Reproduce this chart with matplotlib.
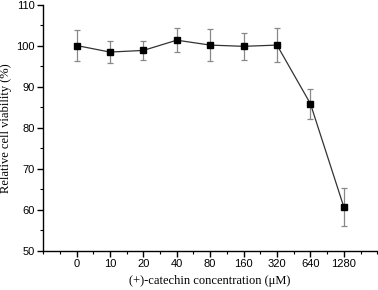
import numpy as np
import matplotlib
matplotlib.use('Agg')
import matplotlib.pyplot as plt
from matplotlib.ticker import MultipleLocator

conc = ['0', '10', '20', '40', '80', '160', '320', '640', '1280']
viability = [100.1, 98.5, 98.9, 101.4, 100.2, 99.9, 100.2, 85.9, 60.7]
err = [3.8, 2.7, 2.3, 3.0, 3.9, 3.3, 4.1, 3.7, 4.6]

x = np.arange(len(conc))

fig = plt.figure(figsize=(3.78, 2.90), dpi=100)
ax = fig.add_axes([0.114, 0.135, 0.884, 0.848])

ax.errorbar(x, viability, yerr=err, fmt='none', ecolor='#888888',
            elinewidth=0.9, capsize=2.5, capthick=0.9, zorder=2)
ax.plot(x, viability, '-', color='#333333', lw=0.9, zorder=3)
ax.plot(x, viability, 's', color='black', markersize=5, zorder=4)

ax.set_xlim(-1, 9)
ax.set_ylim(50, 110)
ax.set_xticks(x)
ax.set_xticklabels(conc)
ax.xaxis.set_minor_locator(MultipleLocator(0.5))
ax.yaxis.set_major_locator(MultipleLocator(10))
ax.yaxis.set_minor_locator(MultipleLocator(5))

ax.spines['top'].set_visible(False)
ax.spines['right'].set_visible(False)
ax.spines['left'].set_linewidth(1.0)
ax.spines['bottom'].set_linewidth(1.0)
ax.tick_params(which='major', direction='out', length=4, width=1.0,
               labelsize=8, pad=2)
ax.tick_params(which='minor', direction='out', length=2, width=0.8)
for lbl in ax.get_xticklabels() + ax.get_yticklabels():
    lbl.set_fontfamily('Liberation Sans')

ax.set_xlabel('(+)-catechin concentration (\u03bcM)', family='Liberation Serif',
              fontsize=9, labelpad=4)
ax.set_ylabel('Relative cell viability (%)', family='Liberation Serif',
              fontsize=9)
ax.yaxis.set_label_coords(-0.092, 0.5)

fig.savefig('out.png', dpi=100)
